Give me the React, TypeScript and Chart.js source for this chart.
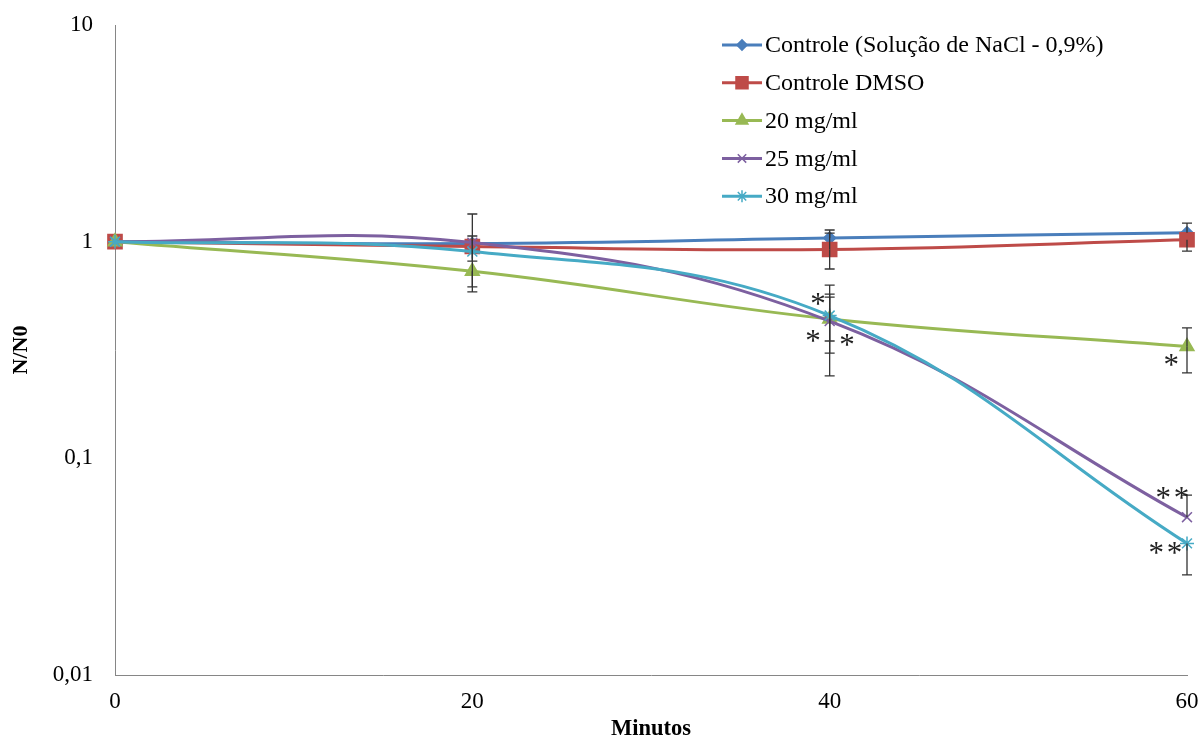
import React, { useEffect, useRef } from "react";
import { Chart, registerables } from "chart.js";
import { drawPoint } from "chart.js/helpers";

Chart.register(...registerables);

const MINUTES = [0, 20, 40, 60];
const X_TICK_LABELS = ["0", "20", "40", "60"];
const Y_TICKS = [0.01, 0.1, 1, 10];
const Y_TICK_LABELS = ["0,01", "0,1", "1", "10"];

const SERIES_LABELS = [
  "Controle (Solução de NaCl - 0,9%)",
  "Controle DMSO",
  "20 mg/ml",
  "25 mg/ml",
  "30 mg/ml",
];

const NACL = [1, 0.98, 1.04, 1.1];
const DMSO = [1, 0.95, 0.92, 1.02];
const MG20 = [1, 0.73, 0.44, 0.328];
const MG25 = [1, 0.99, 0.43, 0.0535];
const MG30 = [1, 0.9, 0.456, 0.0405];

// error bar ends (absolute values), null = none
const NACL_HI = [null, 1.062, 1.132, 1.219];
const NACL_LO = [null, 0.814, null, null];
const DMSO_HI = [null, 1.342, 1.096, null];
const DMSO_LO = [null, 0.618, 0.748, 0.905];
const MG20_HI = [null, null, 0.555, 0.4];
const MG20_LO = [null, 0.586, 0.348, 0.248];
const MG25_HI = [null, null, 0.573, 0.0677];
const MG25_LO = [null, null, 0.24, null];
const MG30_HI = [null, null, 0.63, null];
const MG30_LO = [null, null, 0.306, 0.029];

// significance marks: series index, x value, text, pixel offset from the point
const MARKS = [
  { s: 2, x: 40, text: "*", dx: -13, dy: -22 },
  { s: 2, x: 40, text: "*", dx: -18, dy: 15 },
  { s: 2, x: 40, text: "*", dx: 16, dy: 19 },
  { s: 2, x: 60, text: "*", dx: -17, dy: 11 },
  { s: 3, x: 60, text: "* *", dx: -16, dy: -26 },
  { s: 4, x: 60, text: "* *", dx: -23, dy: 3 },
];

const COLORS = ["#4A7EBB", "#BE4B48", "#98B954", "#7D60A0", "#46AAC5"];
const STYLES = ["rectRot", "rect", "triangle", "crossRot", "star"];
const RADII = [6, 10, 8, 7, 7];

const VALUES = [NACL, DMSO, MG20, MG25, MG30];
const HIS = [NACL_HI, DMSO_HI, MG20_HI, MG25_HI, MG30_HI];
const LOS = [NACL_LO, DMSO_LO, MG20_LO, MG25_LO, MG30_LO];

const FONT = "'Liberation Serif', 'Times New Roman', serif";

const errorBarPlugin = {
  id: "errorBars",
  afterDatasetsDraw(chart: any) {
    const { ctx, scales } = chart;
    ctx.save();
    ctx.strokeStyle = "#333";
    ctx.lineWidth = 1.3;
    VALUES.forEach((vals, i) => {
      vals.forEach((v, j) => {
        const x = scales.x.getPixelForValue(MINUTES[j]);
        const y0 = scales.y.getPixelForValue(v);
        [HIS[i][j], LOS[i][j]].forEach((e) => {
          if (e == null) return;
          const y1 = scales.y.getPixelForValue(e);
          ctx.beginPath();
          ctx.moveTo(x, y0);
          ctx.lineTo(x, y1);
          ctx.moveTo(x - 5, y1);
          ctx.lineTo(x + 5, y1);
          ctx.stroke();
        });
      });
    });
    ctx.restore();
  },
};

const marksPlugin = {
  id: "marks",
  afterDatasetsDraw(chart: any) {
    const { ctx, scales } = chart;
    ctx.save();
    const size = 31;
    ctx.font = `${size}px ${FONT}`;
    ctx.fillStyle = "#222";
    ctx.textAlign = "center";
    ctx.textBaseline = "alphabetic";
    try {
      (ctx as any).letterSpacing = "-2.5px";
    } catch (e) {}
    MARKS.forEach((m) => {
      const j = MINUTES.indexOf(m.x);
      const px = scales.x.getPixelForValue(m.x);
      const py = scales.y.getPixelForValue(VALUES[m.s][j]);
      ctx.fillText(m.text, px + m.dx, py + m.dy + size * 0.55);
    });
    ctx.restore();
  },
};

const legendPlugin = {
  id: "customLegend",
  afterDraw(chart: any) {
    const { ctx } = chart;
    ctx.save();
    chart.data.datasets.forEach((ds: any, i: number) => {
      const y = 45 + i * 37.8;
      ctx.strokeStyle = ds.borderColor;
      ctx.lineWidth = 3;
      ctx.beginPath();
      ctx.moveTo(722, y);
      ctx.lineTo(762, y);
      ctx.stroke();
      ctx.fillStyle = ds.borderColor;
      ctx.strokeStyle = ds.borderColor;
      ctx.lineWidth = 1.5;
      drawPoint(
        ctx,
        { pointStyle: ds.pointStyle, radius: ds.pointRadius * 0.85, rotation: 0, borderWidth: 1.5 } as any,
        742,
        y
      );
      ctx.fillStyle = "#000";
      ctx.font = `24px ${FONT}`;
      ctx.textAlign = "left";
      ctx.textBaseline = "middle";
      ctx.fillText(ds.label, 765, y + 1);
    });
    ctx.restore();
  },
};

export default function App() {
  const ref = useRef<HTMLCanvasElement>(null);

  useEffect(() => {
    document.body.style.margin = "0";
    const canvas = ref.current;
    if (!canvas) return;
    const n = VALUES.length;
    const chart = new Chart(canvas, {
      type: "line",
      data: {
        datasets: VALUES.map((vals, i) => ({
          label: SERIES_LABELS[i],
          data: vals.map((v, j) => ({ x: MINUTES[j], y: v })),
          borderColor: COLORS[i],
          backgroundColor: COLORS[i],
          pointBackgroundColor: COLORS[i],
          pointBorderColor: COLORS[i],
          pointStyle: STYLES[i],
          pointRadius: RADII[i],
          pointBorderWidth: 1.5,
          borderWidth: 3,
          tension: 0.4,
          clip: false,
          order: n - i,
        })) as any,
      },
      options: {
        animation: false,
        responsive: false,
        maintainAspectRatio: false,
        layout: { padding: { left: 0, right: 14, top: 25, bottom: 0 } },
        plugins: {
          legend: { display: false },
          tooltip: { enabled: false },
        },
        scales: {
          x: {
            type: "linear",
            min: 0,
            max: 60,
            grid: { display: false, drawTicks: false },
            border: { display: true, color: "#868686", width: 1 },
            ticks: {
              stepSize: 20,
              padding: 13,
              color: "#000",
              font: { family: FONT, size: 23 },
              callback: (v: any) => {
                const k = MINUTES.indexOf(Number(v));
                return k >= 0 ? X_TICK_LABELS[k] : "";
              },
            },
            title: {
              display: true,
              text: "Minutos",
              color: "#000",
              font: { family: FONT, size: 22.5, weight: "bold", lineHeight: 1 },
              padding: { top: 0, bottom: 0 },
            },
            afterFit: (s: any) => {
              s.height = 65;
              s.paddingLeft = 0;
              s.paddingRight = 0;
              s.paddingTop = 0;
              s.paddingBottom = 0;
            },
          },
          y: {
            type: "logarithmic",
            min: 0.01,
            max: 10,
            grid: { display: false, drawTicks: false },
            border: { display: true, color: "#868686", width: 1 },
            afterBuildTicks: (s: any) => {
              s.ticks = Y_TICKS.map((v) => ({ value: v }));
            },
            ticks: {
              padding: 22,
              color: "#000",
              font: { family: FONT, size: 23 },
              callback: (v: any) => {
                const k = Y_TICKS.findIndex((t) => Math.abs(t - Number(v)) < t * 1e-6);
                return k >= 0 ? Y_TICK_LABELS[k] : "";
              },
            },
            title: {
              display: true,
              text: "N/N0",
              color: "#000",
              font: { family: FONT, size: 22, weight: "bold", lineHeight: 1.2 },
              padding: { top: 8, bottom: 0 },
            },
            afterFit: (s: any) => {
              s.width = 115;
              s.paddingLeft = 0;
              s.paddingRight = 0;
              s.paddingTop = 0;
              s.paddingBottom = 0;
            },
          },
        },
      } as any,
      plugins: [errorBarPlugin, marksPlugin, legendPlugin],
    });
    return () => chart.destroy();
  }, []);

  return (
    <div style={{ width: 1201, height: 740, background: "#fff" }}>
      <canvas ref={ref} width={1201} height={740} style={{ display: "block" }} />
    </div>
  );
}
